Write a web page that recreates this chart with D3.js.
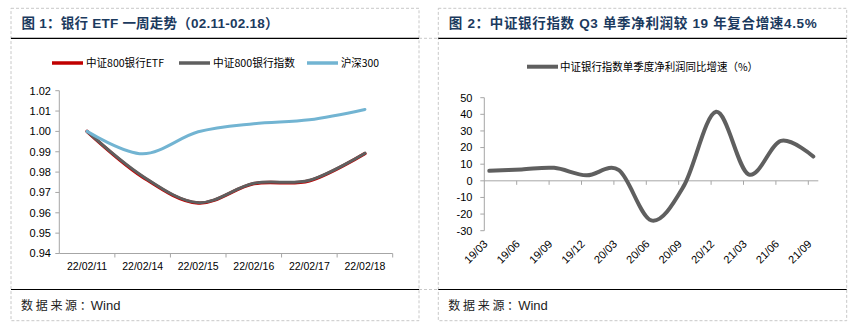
<!DOCTYPE html>
<html>
<head>
<meta charset="utf-8">
<script src="https://cdn.jsdelivr.net/npm/d3@7"></script>
<style>
  body { margin: 0; background: #fff; }
  svg { display: block; }
</style>
</head>
<body>
<div id="chart"></div>
<script>
// left panel: bank ETF one-week trend
const dates1 = ["22/02/11", "22/02/14", "22/02/15", "22/02/16", "22/02/17", "22/02/18"];
const etfValues = [1.000, 0.9776, 0.9648, 0.9743, 0.9757, 0.9891];
const bankIndexValues = [1.000, 0.9780, 0.9650, 0.9745, 0.9760, 0.9893];
const hs300Values = [1.000, 0.9890, 0.9998, 1.0038, 1.0057, 1.0108];
const yTicks1 = [0.94, 0.95, 0.96, 0.97, 0.98, 0.99, 1.00, 1.01, 1.02];
const legend1 = ["中证800银行ETF", "中证800银行指数", "沪深300"];

// right panel: quarterly net profit growth
const quarters = ["19/03", "19/06", "19/09", "19/12", "20/03", "20/06", "20/09", "20/12", "21/03", "21/06", "21/09"];
const growthValues = [6.0, 6.8, 7.8, 3.3, 6.4, -23.8, -3.2, 41.5, 3.9, 24.0, 14.6];
const yTicks2 = [-30, -20, -10, 0, 10, 20, 30, 40, 50];
const legend2 = "中证银行指数单季度净利润同比增速（%）";

const titles = ["图 1：银行 ETF 一周走势（02.11-02.18）", "图 2：中证银行指数 Q3 单季净利润较 19 年复合增速4.5%"];
const sourceText = "数据来源";
const sourceColon = "：";
const sourceName = "Wind";

const W = 856, H = 334;
const latin = "'Liberation Sans', Arial, 'Noto Sans CJK SC', sans-serif";
const axisColor = "#a6a6a6";

const svg = d3.select("#chart").append("svg")
  .attr("width", W)
  .attr("height", H);

// ---- frames ----
const panels = [{x0: 11, x1: 419}, {x0: 438.3, x1: 846.7}];
const frameTop = 8.3, titleLine = 38.3, footLine = 289.5, frameBottom = 320.7;

const frame = svg.append("g");
panels.forEach(p => {
  frame.append("rect")
    .attr("x", p.x0).attr("y", frameTop)
    .attr("width", p.x1 - p.x0).attr("height", frameBottom - frameTop)
    .attr("fill", "none")
    .attr("stroke", "#c8c8c8")
    .attr("stroke-dasharray", "3,2");
  [titleLine, footLine].forEach(y => frame.append("line")
    .attr("x1", p.x0).attr("x2", p.x1)
    .attr("y1", y).attr("y2", y)
    .attr("stroke", "#000")
    .attr("stroke-width", 1.2));
});
[titleLine, footLine].forEach(y => frame.append("line")
  .attr("x1", panels[0].x1).attr("x2", panels[1].x0)
  .attr("y1", y).attr("y2", y)
  .attr("stroke", "#c8c8c8")
  .attr("stroke-dasharray", "3,2"));

// titles and source lines
const titleLengths = [257, 368];
panels.forEach((p, i) => {
  svg.append("text")
    .attr("x", p.x0 + 10.5)
    .attr("y", 23)
    .attr("dy", "0.36em")
    .attr("font-family", latin)
    .attr("font-weight", "bold")
    .attr("font-size", 13.5)
    .attr("fill", "#1b3a5e")
    .attr("textLength", titleLengths[i])
    .attr("lengthAdjust", "spacing")
    .text(titles[i]);

  const src = svg.append("text")
    .attr("x", p.x0 + 10)
    .attr("y", 304)
    .attr("dy", "0.36em")
    .attr("fill", "#222");
  src.append("tspan")
    .attr("font-family", "'Noto Sans CJK SC', sans-serif")
    .attr("font-size", 12)
    .attr("letter-spacing", 2.7)
    .text(sourceText);
  src.append("tspan")
    .attr("font-family", "'Noto Sans CJK SC', sans-serif")
    .attr("font-size", 12)
    .text(sourceColon);
  src.append("tspan")
    .attr("dx", -1)
    .attr("font-family", latin)
    .attr("font-size", 13)
    .text(sourceName);
});

// ---- chart 1 ----
const x1 = d3.scaleBand().domain(dates1).range([59.3, 392.7]);
const y1 = d3.scaleLinear().domain([0.94, 1.02]).range([253.5, 90.7]);
const px1 = d => x1(d) + x1.bandwidth() / 2;

const g1 = svg.append("g");

g1.append("line")
  .attr("x1", x1.range()[0]).attr("x2", x1.range()[0])
  .attr("y1", y1.range()[0]).attr("y2", y1.range()[1])
  .attr("stroke", axisColor);
g1.append("line")
  .attr("x1", x1.range()[0]).attr("x2", x1.range()[1])
  .attr("y1", y1.range()[0]).attr("y2", y1.range()[0])
  .attr("stroke", axisColor);

g1.selectAll(".ytick")
  .data(yTicks1)
  .join("line")
    .attr("x1", x1.range()[0] - 4).attr("x2", x1.range()[0])
    .attr("y1", d => y1(d)).attr("y2", d => y1(d))
    .attr("stroke", axisColor);

g1.selectAll(".ylab")
  .data(yTicks1)
  .join("text")
    .attr("x", 51)
    .attr("y", d => y1(d))
    .attr("dy", "0.35em")
    .attr("text-anchor", "end")
    .attr("font-family", latin)
    .attr("font-size", 11)
    .attr("fill", "#000")
    .text(d => d.toFixed(2));

g1.selectAll(".xtick")
  .data(dates1)
  .join("line")
    .attr("x1", d => x1(d) + x1.bandwidth()).attr("x2", d => x1(d) + x1.bandwidth())
    .attr("y1", y1.range()[0]).attr("y2", y1.range()[0] + 4)
    .attr("stroke", axisColor);

g1.selectAll(".xlab")
  .data(dates1)
  .join("text")
    .attr("x", px1)
    .attr("y", 266)
    .attr("dy", "0.35em")
    .attr("text-anchor", "middle")
    .attr("font-family", latin)
    .attr("font-size", 10.5)
    .attr("fill", "#000")
    .text(d => d);

const line1 = d3.line()
  .x((d, i) => px1(dates1[i]))
  .y(d => y1(d))
  .curve(d3.curveCatmullRom.alpha(0));

const series1 = [
  {values: etfValues, color: "#c00000", width: 3.4},
  {values: bankIndexValues, color: "#5f5f5f", width: 3},
  {values: hs300Values, color: "#72b4d2", width: 3}
];

g1.selectAll(".series")
  .data(series1)
  .join("path")
    .attr("d", d => line1(d.values))
    .attr("fill", "none")
    .attr("stroke", d => d.color)
    .attr("stroke-width", d => d.width)
    .attr("stroke-linecap", "round");

// legend 1
const legendPos = [{x: 52, tl: 78}, {x: 179, tl: 82}, {x: 307, tl: 38}];
legend1.forEach((name, i) => {
  const lg = svg.append("g").attr("transform", `translate(${legendPos[i].x},63)`);
  lg.append("line")
    .attr("x1", 0).attr("x2", 31)
    .attr("stroke", series1[i].color)
    .attr("stroke-width", 3.5);
  lg.append("text")
    .attr("x", 34)
    .attr("dy", "0.36em")
    .attr("font-family", "'Noto Sans CJK SC', sans-serif")
    .attr("font-size", 11)
    .attr("fill", "#000")
    .attr("textLength", legendPos[i].tl)
    .attr("lengthAdjust", "spacingAndGlyphs")
    .text(name);
});

// ---- chart 2 ----
const x2 = d3.scalePoint().domain(quarters).range([489.3, 813.3]);
const y2 = d3.scaleLinear().domain([-30, 50]).range([230.7, 97.7]);
const axisX0 = 484.3, axisX1 = 818.3;

const g2 = svg.append("g");

g2.append("line")
  .attr("x1", axisX0).attr("x2", axisX0)
  .attr("y1", y2(-30)).attr("y2", y2(50))
  .attr("stroke", axisColor);
g2.append("line")
  .attr("x1", axisX0).attr("x2", axisX1)
  .attr("y1", y2(0)).attr("y2", y2(0))
  .attr("stroke", axisColor);

g2.selectAll(".ytick")
  .data(yTicks2)
  .join("line")
    .attr("x1", axisX0 - 4).attr("x2", axisX0)
    .attr("y1", d => y2(d)).attr("y2", d => y2(d))
    .attr("stroke", axisColor);

g2.selectAll(".ylab")
  .data(yTicks2)
  .join("text")
    .attr("x", 472.5)
    .attr("y", d => y2(d))
    .attr("dy", "0.35em")
    .attr("text-anchor", "end")
    .attr("font-family", latin)
    .attr("font-size", 11)
    .attr("fill", "#000")
    .text(d => d);

g2.selectAll(".xtick")
  .data(quarters.slice(1))
  .join("line")
    .attr("x1", d => x2(d) - 5).attr("x2", d => x2(d) - 5)
    .attr("y1", y2(0)).attr("y2", y2(0) + 4)
    .attr("stroke", axisColor);

g2.selectAll(".xlab")
  .data(quarters)
  .join("text")
    .attr("transform", d => `translate(${x2(d) - 1},${y2(-30) + 14}) rotate(-45)`)
    .attr("text-anchor", "end")
    .attr("font-family", latin)
    .attr("font-size", 11)
    .attr("fill", "#000")
    .text(d => d);

const line2 = d3.line()
  .x((d, i) => x2(quarters[i]))
  .y(d => y2(d))
  .curve(d3.curveCatmullRom.alpha(0));

g2.append("path")
  .attr("d", line2(growthValues))
  .attr("fill", "none")
  .attr("stroke", "#5f5f5f")
  .attr("stroke-width", 4)
  .attr("stroke-linecap", "round");

// legend 2
const lg2 = svg.append("g").attr("transform", "translate(527,66.7)");
lg2.append("line")
  .attr("x1", 0).attr("x2", 31)
  .attr("stroke", "#5f5f5f")
  .attr("stroke-width", 4);
lg2.append("text")
  .attr("x", 33)
  .attr("dy", "0.36em")
  .attr("font-family", "'Noto Sans CJK SC', sans-serif")
  .attr("font-size", 11)
  .attr("fill", "#000")
  .attr("textLength", 198)
  .attr("lengthAdjust", "spacingAndGlyphs")
  .text(legend2);
</script>
</body>
</html>
